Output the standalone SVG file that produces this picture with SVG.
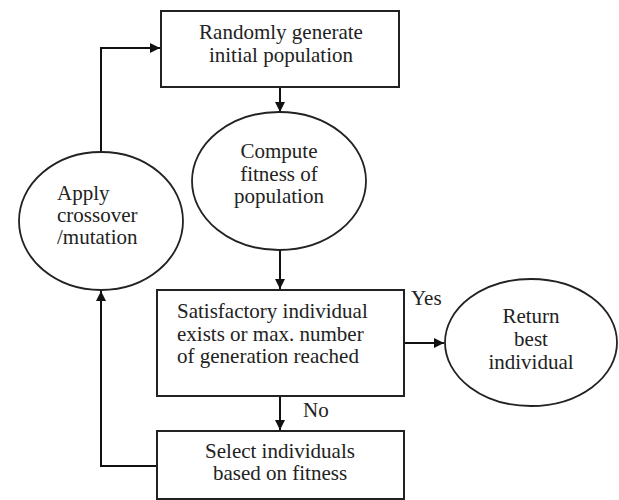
<svg xmlns="http://www.w3.org/2000/svg" width="619" height="500" viewBox="0 0 619 500">
<style>
.box{fill:#fff;stroke:#222;stroke-width:2}
.oval{fill:#fff;stroke:#222;stroke-width:1.8}
.t{font-family:"Liberation Serif","DejaVu Serif",serif;font-size:21px;fill:#222}
.c{text-anchor:middle}
.ln{fill:none;stroke:#111;stroke-width:2}
</style>
<defs>
<marker id="ah" viewBox="0 0 10 10" refX="10" refY="5" markerWidth="10" markerHeight="10" markerUnits="userSpaceOnUse" orient="auto">
<path d="M0,0 L10,5 L0,10 Z" fill="#111"/>
</marker>
</defs>
<rect width="619" height="500" fill="#fff"/>
<g id="connectors">
<path class="ln" d="M101,153 V48 H160" marker-end="url(#ah)"/>
<path class="ln" d="M280,87 V112" marker-end="url(#ah)"/>
<path class="ln" d="M280,250 V289" marker-end="url(#ah)"/>
<path class="ln" d="M404,343 H444" marker-end="url(#ah)"/>
<path class="ln" d="M280,397 V430" marker-end="url(#ah)"/>
<path class="ln" d="M157,466 H101 V291" marker-end="url(#ah)"/>
<text class="t" x="411" y="305">Yes</text>
<text class="t" x="303" y="417">No</text>
</g>
<g id="init">
<rect class="box" x="161" y="11" width="238" height="76"/>
<text class="t c" x="281" y="39">Randomly generate</text>
<text class="t c" x="281" y="62">initial population</text>
</g>
<g id="fitness">
<ellipse class="oval" cx="279" cy="181" rx="87" ry="69"/>
<text class="t c" x="279" y="158">Compute</text>
<text class="t c" x="279" y="181">fitness of</text>
<text class="t c" x="279" y="203">population</text>
</g>
<g id="apply">
<ellipse class="oval" cx="101" cy="221" rx="82" ry="69"/>
<text class="t" x="57" y="200">Apply</text>
<text class="t" x="57" y="222">crossover</text>
<text class="t" x="57" y="244">/mutation</text>
</g>
<g id="decision">
<rect class="box" x="157" y="290" width="247" height="106"/>
<text class="t" x="177" y="318">Satisfactory individual</text>
<text class="t" x="177" y="341">exists or max. number</text>
<text class="t" x="177" y="363">of generation reached</text>
</g>
<g id="result">
<ellipse class="oval" cx="531" cy="342.5" rx="86" ry="63.5"/>
<text class="t c" x="531" y="323">Return</text>
<text class="t c" x="531" y="346">best</text>
<text class="t c" x="531" y="369">individual</text>
</g>
<g id="select">
<rect class="box" x="157" y="431" width="247" height="68"/>
<text class="t c" x="280" y="458">Select individuals</text>
<text class="t c" x="280" y="480">based on fitness</text>
</g>
</svg>
